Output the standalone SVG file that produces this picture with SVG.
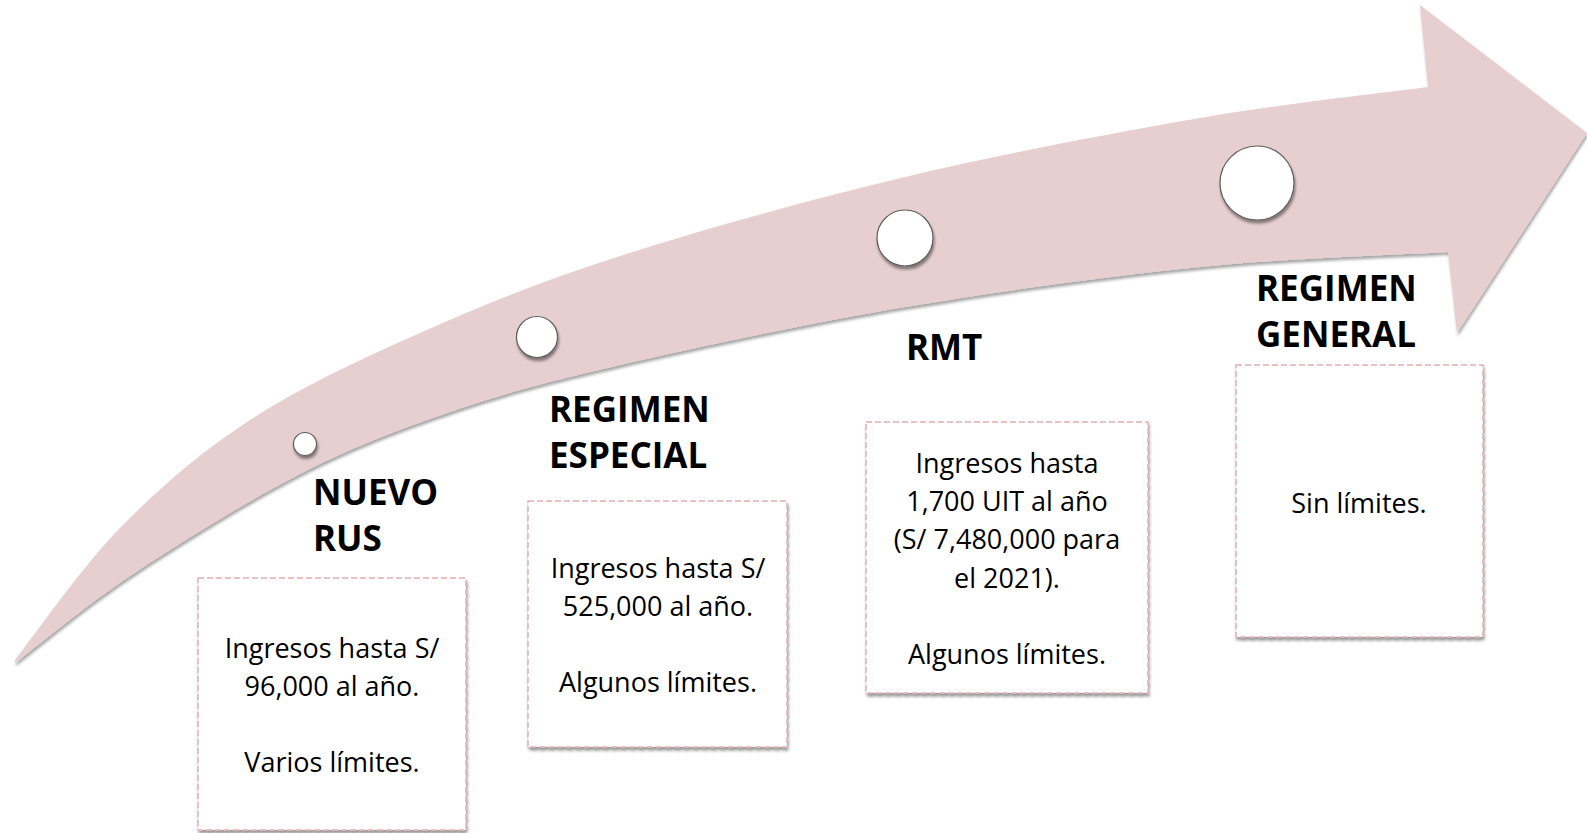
<svg xmlns="http://www.w3.org/2000/svg" width="1587" height="833" viewBox="0 0 1587 833">
<defs>
<filter id="shArrow" x="-5%" y="-5%" width="110%" height="115%">
<feGaussianBlur in="SourceAlpha" stdDeviation="1.5"/>
<feOffset dx="1" dy="3" result="b"/>
<feComponentTransfer><feFuncA type="linear" slope="0.35"/></feComponentTransfer>
<feMerge><feMergeNode/><feMergeNode in="SourceGraphic"/></feMerge>
</filter>
<filter id="shBox" x="-10%" y="-10%" width="120%" height="120%">
<feGaussianBlur in="SourceAlpha" stdDeviation="1.5"/>
<feOffset dx="1" dy="3" result="b"/>
<feComponentTransfer><feFuncA type="linear" slope="0.4"/></feComponentTransfer>
<feMerge><feMergeNode/><feMergeNode in="SourceGraphic"/></feMerge>
</filter>
<filter id="shDot" x="-30%" y="-30%" width="160%" height="170%">
<feGaussianBlur in="SourceAlpha" stdDeviation="1.5"/>
<feOffset dx="1" dy="3" result="b"/>
<feComponentTransfer><feFuncA type="linear" slope="0.45"/></feComponentTransfer>
<feMerge><feMergeNode/><feMergeNode in="SourceGraphic"/></feMerge>
</filter>
</defs>
<style>
.arrow{fill:#E7CFD0;}
.dot{fill:#FFFFFF;stroke:#5E5E5E;stroke-width:1.2;}
.box{fill:#FFFFFF;stroke:#E3AFAF;stroke-width:1.5;stroke-dasharray:6 3;}
.title{font-family:"Open Sans","Liberation Sans",sans-serif;font-weight:bold;font-size:35px;fill:#000000;}
.body{font-family:"Open Sans","Liberation Sans",sans-serif;font-size:27px;fill:#000000;text-anchor:middle;}
</style>
<rect width="1587" height="833" fill="#FFFFFF"/>
<g id="connectors">
<path id="timeline-arrow" class="arrow" filter="url(#shArrow)" d="M 15,660 C 32.5,638 80.8,568 120,528 C 159.2,488 200,452.5 250,420 C 300,387.5 358.3,360.3 420,333 C 481.7,305.7 539.2,282 620,256 C 700.8,230 808.3,200 905,177 C 1001.7,154 1112.8,133 1200,118 C 1287.2,103 1390,92.2 1428,87 L 1420,5 L 1587,133 L 1457,333 L 1448,252 C 1406.7,254.5 1290.5,257.8 1200,267 C 1109.5,276.2 1001.7,290.7 905,307 C 808.3,323.3 695.8,347.5 620,365 C 544.2,382.5 503.3,393.8 450,412 C 396.7,430.2 352.8,447 300,474 C 247.2,501 180.5,542.5 133,574 C 85.5,605.5 34.7,648.2 15,663 Z"/>
</g>
<g id="dot-nuevo-rus"><circle class="dot" filter="url(#shDot)" cx="305" cy="444" r="11.5"/></g>
<g id="dot-regimen-especial"><circle class="dot" filter="url(#shDot)" cx="537" cy="337" r="20.5"/></g>
<g id="dot-rmt"><circle class="dot" filter="url(#shDot)" cx="905" cy="238" r="28"/></g>
<g id="dot-regimen-general"><circle class="dot" filter="url(#shDot)" cx="1257" cy="183" r="37"/></g>
<g id="node-nuevo-rus">
<text class="title" x="313" y="505">NUEVO</text>
<text class="title" x="313" y="551">RUS</text>
<rect class="box" filter="url(#shBox)" x="198" y="578" width="268" height="252"/>
<text class="body" x="332" y="658">Ingresos hasta S/</text>
<text class="body" x="332" y="696">96,000 al año.</text>
<text class="body" x="332" y="772">Varios límites.</text>
</g>
<g id="node-regimen-especial">
<text class="title" x="549" y="422">REGIMEN</text>
<text class="title" x="549" y="468">ESPECIAL</text>
<rect class="box" filter="url(#shBox)" x="528" y="501" width="259" height="246"/>
<text class="body" x="658" y="578">Ingresos hasta S/</text>
<text class="body" x="658" y="616">525,000 al año.</text>
<text class="body" x="658" y="692">Algunos límites.</text>
</g>
<g id="node-rmt">
<text class="title" x="906" y="360">RMT</text>
<rect class="box" filter="url(#shBox)" x="866" y="422" width="282" height="271"/>
<text class="body" x="1007" y="473">Ingresos hasta</text>
<text class="body" x="1007" y="511">1,700 UIT al año</text>
<text class="body" x="1007" y="549">(S/ 7,480,000 para</text>
<text class="body" x="1007" y="588">el 2021).</text>
<text class="body" x="1007" y="664">Algunos límites.</text>
</g>
<g id="node-regimen-general">
<text class="title" x="1256" y="301">REGIMEN</text>
<text class="title" x="1256" y="347">GENERAL</text>
<rect class="box" filter="url(#shBox)" x="1236" y="365" width="247" height="272"/>
<text class="body" x="1359" y="513">Sin límites.</text>
</g>
</svg>
